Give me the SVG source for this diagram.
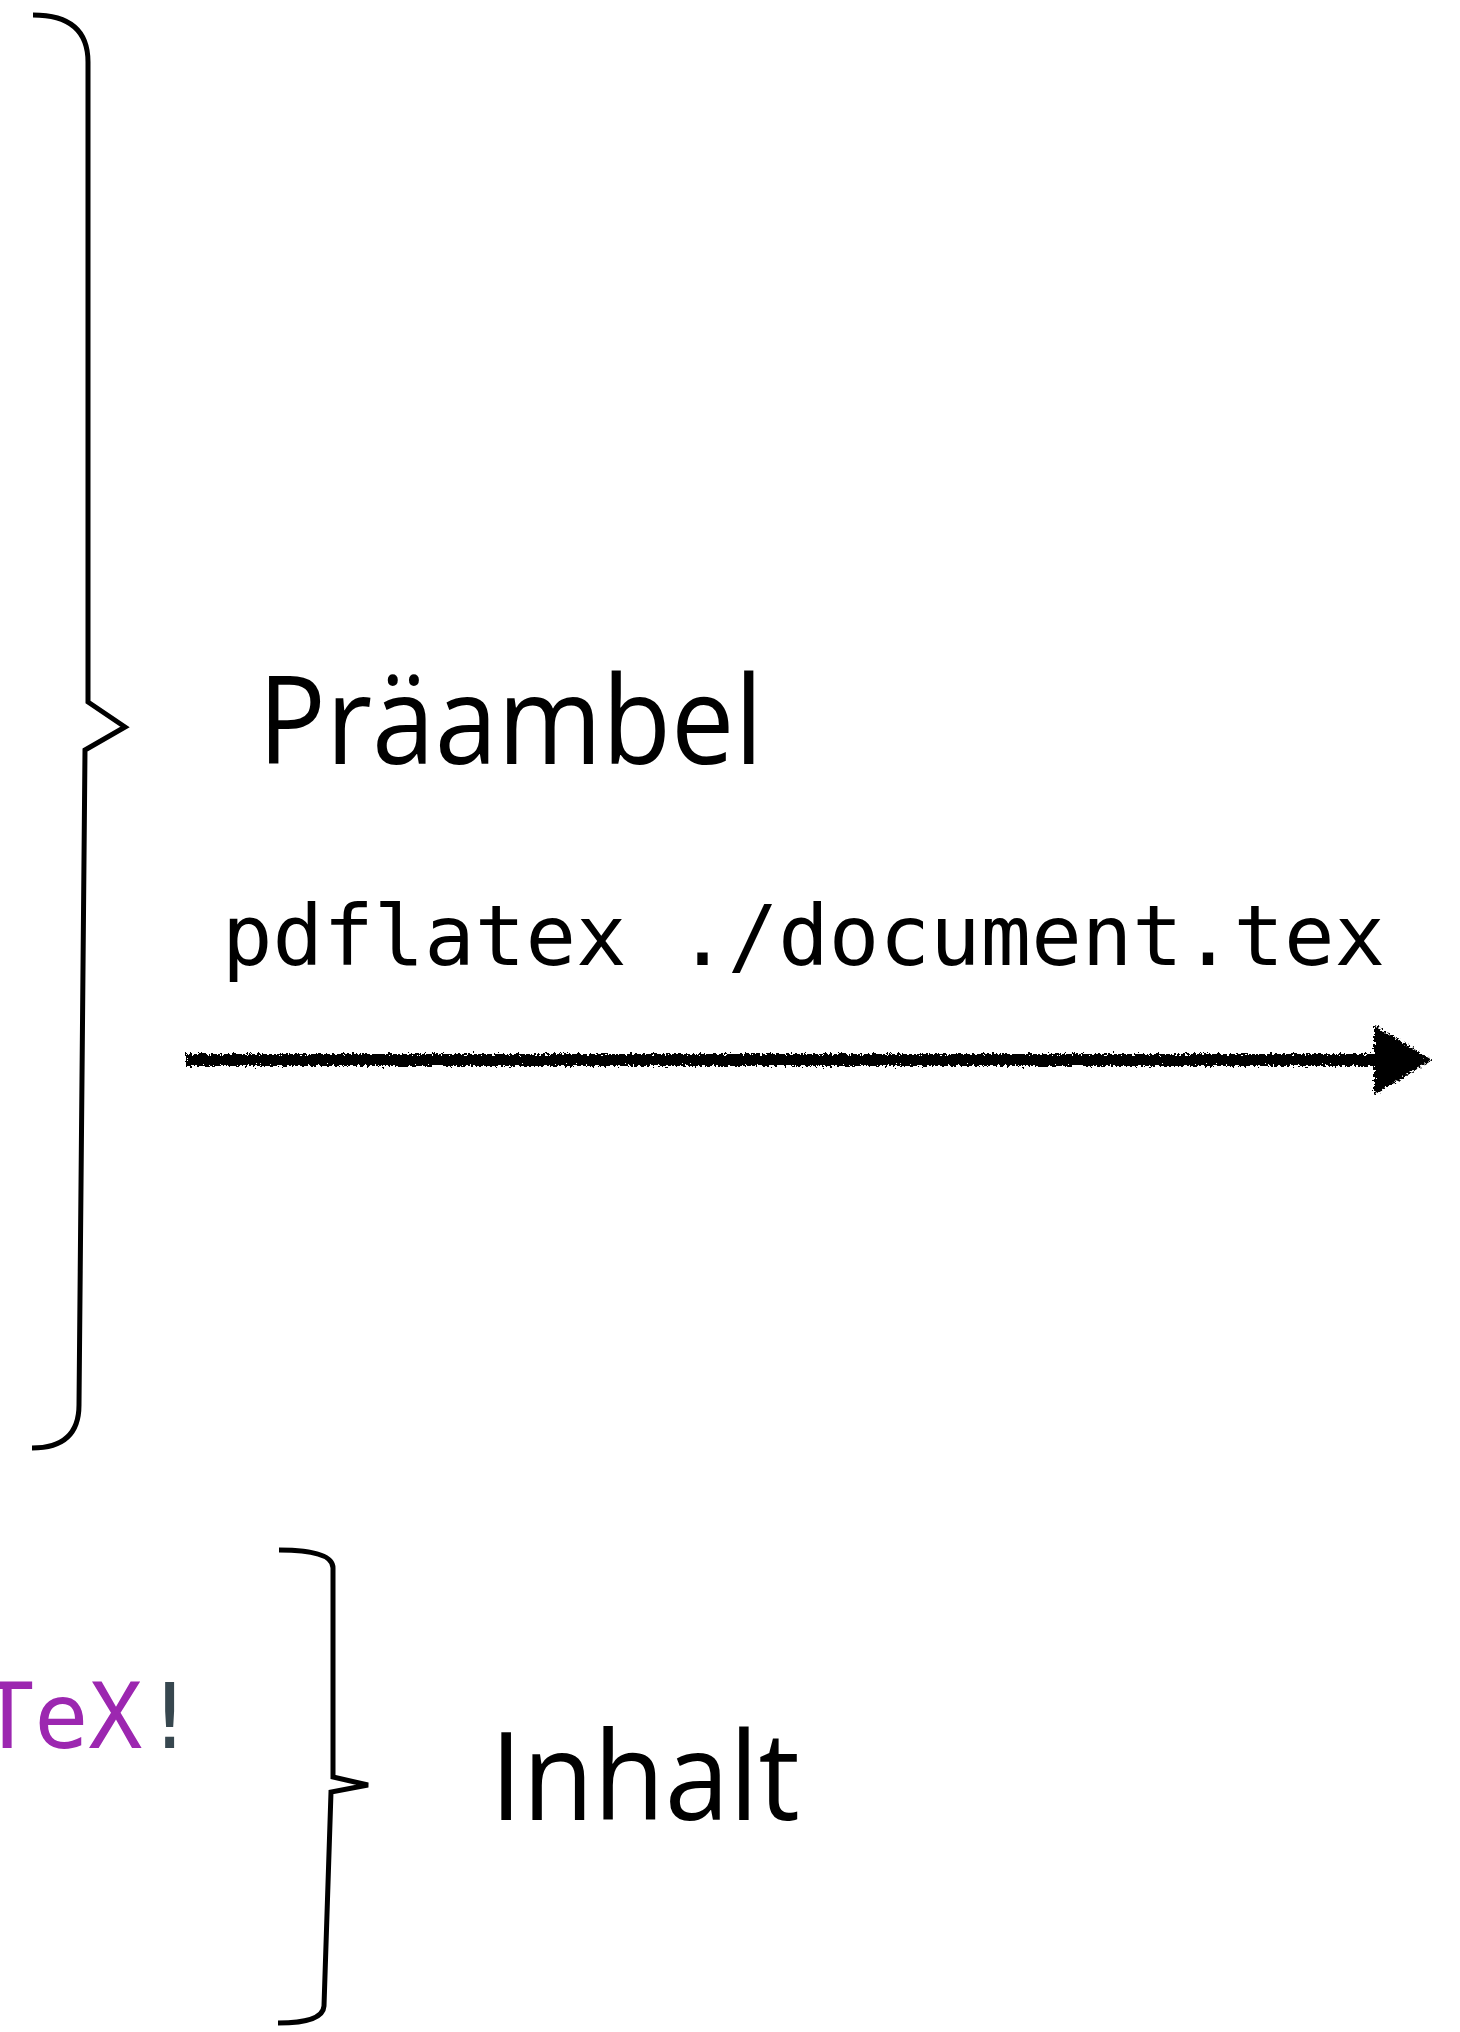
<svg xmlns="http://www.w3.org/2000/svg" width="1460" height="2032" viewBox="0 0 1460 2032">
<style>
.brace{fill:none;stroke:#000;stroke-width:5;stroke-linejoin:miter}
.label{font-family:"Open Sans","Noto Sans",sans-serif;font-size:122px;fill:#000}
.mono{font-family:"DejaVu Sans Mono","Liberation Mono",monospace}
</style>
<defs>
<filter id="rough" filterUnits="userSpaceOnUse" x="150" y="1000" width="1320" height="120">
<feTurbulence type="fractalNoise" baseFrequency="0.4" numOctaves="3" seed="3" result="n"/>
<feDisplacementMap in="SourceGraphic" in2="n" scale="8" xChannelSelector="R" yChannelSelector="G"/>
</filter>
<marker id="head" viewBox="0 0 60 74" refX="2" refY="37" markerWidth="60" markerHeight="74" markerUnits="userSpaceOnUse" orient="auto">
<path d="M2,2 L60,37 L2,72 Z" fill="#000"/>
</marker>
</defs>
<rect width="1460" height="2032" fill="#fff"/>
<g id="code">
<text class="mono" x="-20" y="1748" font-size="90" fill="#9C27B0">TeX<tspan fill="#37474F">!</tspan></text>
</g>
<g id="brace-praeambel">
<path class="brace" d="M33,15 Q88,15 88,62 L88,702 L125,727 L85,750 L79,1405 Q79,1448 32,1448"/>
</g>
<g id="label-praeambel">
<text class="label" x="258" y="764" textLength="505" lengthAdjust="spacingAndGlyphs">Präambel</text>
</g>
<g id="command">
<text class="mono" x="222" y="965" font-size="84" fill="#000">pdflatex ./document.tex</text>
</g>
<g id="connectors" filter="url(#rough)">
<path d="M186,1060 L1374,1060" stroke="#000" stroke-width="12" fill="none" marker-end="url(#head)"/>
</g>
<g id="brace-inhalt">
<path class="brace" d="M279,1550 Q333,1550 333,1568 L333,1777 L368,1785 L331,1792 L324,2006 Q323,2023 278,2023"/>
</g>
<g id="label-inhalt">
<text class="label" x="490" y="1820" textLength="310" lengthAdjust="spacingAndGlyphs">Inhalt</text>
</g>
</svg>
